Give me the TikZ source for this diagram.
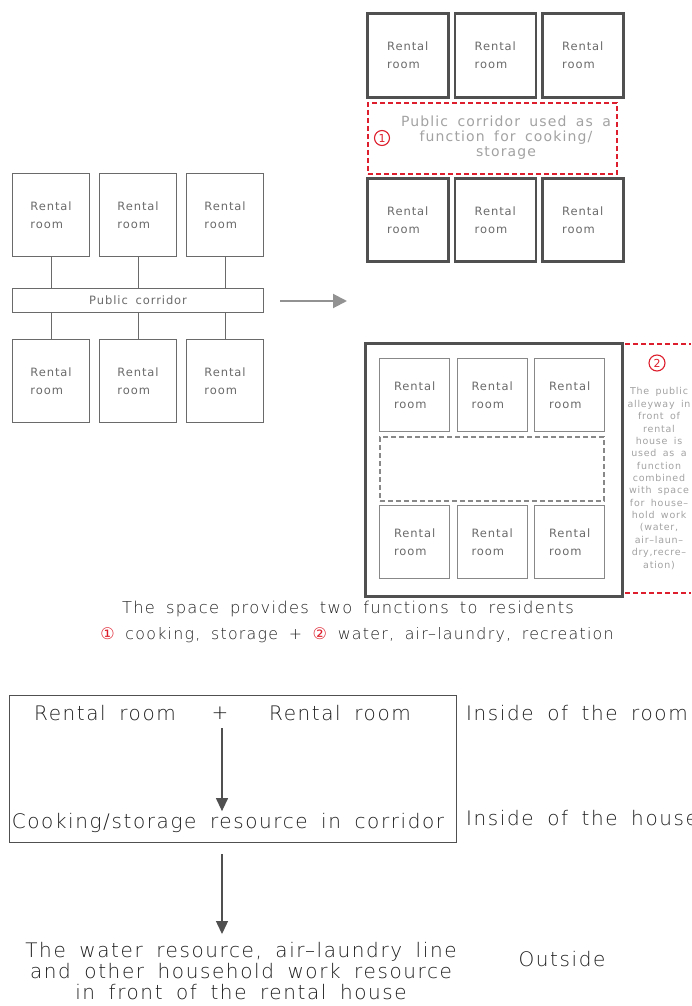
\documentclass[tikz,border=0pt]{standalone}
\usepackage{fontspec}
\setmainfont{DejaVu Sans}[LetterSpace=8,WordSpace=1.7]
\IfFontExistsTF{DejaVu Sans ExtraLight}
  {\newfontfamily\thinfont{DejaVu Sans ExtraLight}[LetterSpace=8,WordSpace=1.7]}
  {\newfontfamily\thinfont{DejaVu Sans}[LetterSpace=8,WordSpace=1.7]}
\usepackage{xcolor}
\usetikzlibrary{positioning}
\usetikzlibrary{arrows.meta}

\definecolor{wallgray}{HTML}{505050}
\definecolor{linegray}{HTML}{6A6A6A}
\definecolor{txtgray}{HTML}{6A6A6A}
\definecolor{palegray}{HTML}{A2A2A2}
\definecolor{inkgray}{HTML}{1E1E1E}
\definecolor{markred}{HTML}{DD1F2D}

\tikzset{
  room/.style={draw=linegray, line width=1.1pt, anchor=north west, inner sep=0pt,
    minimum width=77pt, minimum height=83pt, align=left, text=txtgray,
    font=\fontsize{11.5}{18}\selectfont},
  wallroom/.style={room, draw=wallgray, line width=2.6pt, minimum width=81pt},
  innerroom/.style={room, draw=linegray!80, line width=1.3pt, minimum width=70pt, minimum height=73pt},
  link/.style={draw=linegray, line width=0.9pt},
  reddash/.style={draw=markred, line width=2pt, dash pattern=on 5pt off 3pt},
  numcirc/.style={circle, draw=markred, line width=1.1pt, text=markred, inner sep=0pt,
    minimum size=15pt, font=\fontsize{11}{11}\selectfont},
  note/.style={text=palegray, align=center, inner sep=0pt},
  flowtext/.style={text=inkgray, inner sep=2pt, font=\thinfont\fontsize{20}{21}\selectfont},
  flowarrow/.style={draw=wallgray, line width=1.2pt, -{Triangle[length=13pt,width=12pt]}},
}
\newcommand{\rednum}[1]{{\normalfont\fontsize{16}{16}\selectfont\color{markred}#1}}

\begin{document}
\begin{tikzpicture}[x=1pt,y=-1pt]
  \useasboundingbox (0,0) rectangle (691,1006);
  \clip (0,0) rectangle (691,1006);

  % rooms along the public corridor
  \foreach \i in {0,1,2} {
    \node[room] (LT\i) at (12+87*\i,173) {Rental\\room};
    \node[room] (LB\i) at (12+87*\i,339) {Rental\\room};
  }
  \node[room, minimum width=251pt, minimum height=24pt, align=center] (LC) at (12,288) {Public corridor};
  \foreach \i in {0,1,2} {
    \draw[link] (LT\i.south) -- (LT\i.south |- LC.north);
    \draw[link] (LB\i.north) -- (LB\i.north |- LC.south);
  }
  \coordinate (goA) at (280,301);
  \coordinate (goB) at (347,301);
  \draw[draw=palegray!90!black, line width=2pt, -{Triangle[length=14pt,width=14pt]}] (goA) -- (goB);

  % corridor used for cooking / storage
  \foreach \i in {0,1,2} {
    \node[wallroom, minimum height=84pt] (RT\i) at (366+87.5*\i,12) {Rental\\room};
    \node[wallroom] (RB\i) at (366+87.5*\i,177) {Rental\\room};
  }
  \node[reddash, anchor=north west, minimum width=249pt, minimum height=71pt] (use1) at (367,102) {};
  \node[numcirc] (n1) at (382,138) {1};
  \node[note, font=\fontsize{14}{15}\selectfont] (use1txt) at (506,138)
    {Public corridor used as a\\function for cooking/\\storage};

  % house with the alleyway in front
  \node[draw=wallgray, line width=3pt, anchor=north west, minimum width=257pt, minimum height=253pt] (house) at (364,342) {};
  \foreach \i in {0,1,2} {
    \node[innerroom] (HT\i) at (379+77.5*\i,358) {Rental\\room};
    \node[innerroom] (HB\i) at (379+77.5*\i,505) {Rental\\room};
  }
  \node[draw=linegray!80, line width=2pt, dash pattern=on 5pt off 3pt, anchor=north west,
    minimum width=224pt, minimum height=64pt] (alley) at (379,436) {};
  \coordinate (redA) at (625,344);
  \coordinate (redB) at (691,344);
  \coordinate (redC) at (625,593);
  \coordinate (redD) at (691,593);
  \draw[reddash] (redA) -- (redB);
  \draw[reddash] (redC) -- (redD);
  \node[numcirc, minimum size=16pt] (n2) at (657,363) {2};
  \node[note, font=\fontsize{9.5}{12.36}\selectfont] (use2txt) at (659,478.5)
    {The public\\alleyway in\\front of\\rental\\house is\\used as a\\function\\combined\\with space\\for house–\\hold work\\(water,\\air–laun–\\dry,recre–\\ation)};

  \node[text=inkgray, font=\thinfont\fontsize{16.3}{16}\selectfont] (cap1) at (348,609)
    {The space provides two functions to residents};
  \node[text=inkgray, font=\thinfont\fontsize{15.8}{16}\selectfont] (cap2) at (357,635)
    {\rednum{①} cooking, storage + \rednum{②} water, air–laundry, recreation};

  % where the resources are
  \node[draw=wallgray, line width=1.3pt, anchor=north west, minimum width=447pt, minimum height=147pt] (inhouse) at (9,695) {};
  \node[flowtext] (rr1) at (105,713) {Rental room};
  \node[flowtext] (plus) at (220,713) {+};
  \node[flowtext] (rr2) at (340,713) {Rental room};
  \node[flowtext] (cook) at (228,823) {Cooking/storage resource in corridor};
  \node[flowtext, align=center] (water) at (241,971)
    {The water resource, air–laundry line\\and other household work resource\\in front of the rental house};
  \node[flowtext, anchor=west] (lvl1) at (464,713) {Inside of the room};
  \node[flowtext, anchor=west] (lvl2) at (464,818) {Inside of the house};
  \node[flowtext] (lvl3) at (562,959) {Outside};
  \draw[flowarrow, shorten <=7pt] ([xshift=2pt]plus.south) -- ([xshift=2pt]plus.south |- cook.north);
  \draw[flowarrow, shorten >=6pt] ([xshift=2pt,yshift=-11pt]plus.south |- inhouse.south) -- ([xshift=2pt]plus.south |- water.north);
\end{tikzpicture}
\end{document}
